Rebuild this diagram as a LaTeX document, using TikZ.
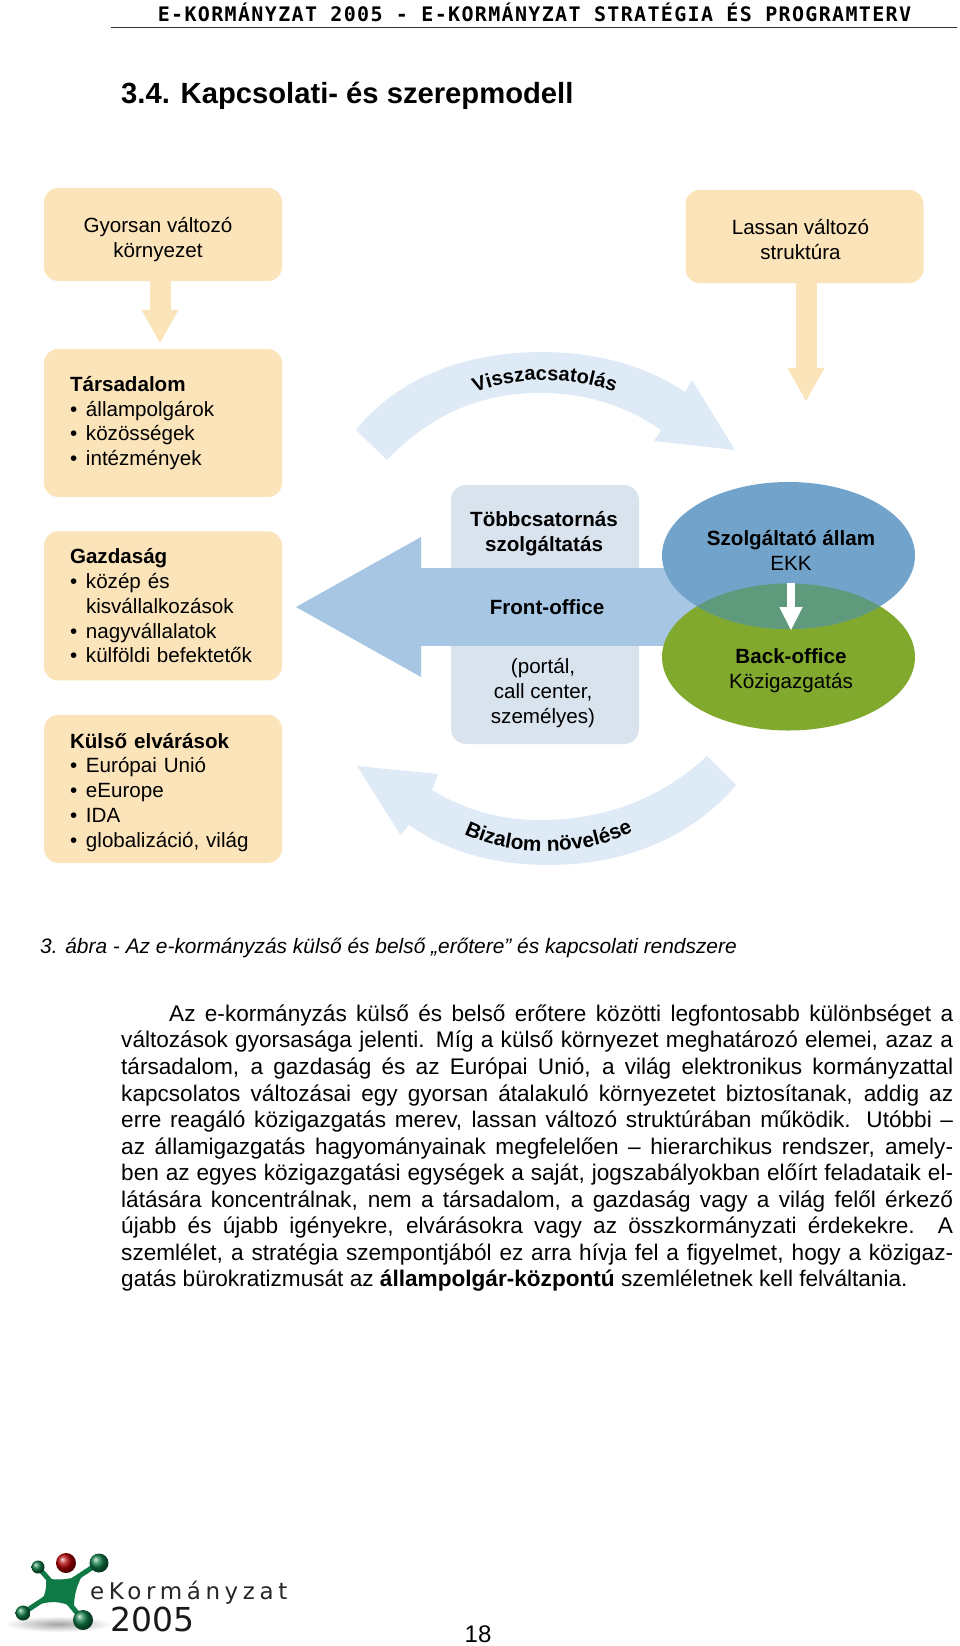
\documentclass[tikz,border=0pt]{standalone}
\usepackage{fontspec}
\setmainfont{Liberation Sans}
\newfontfamily\headfont[LetterSpace=6.7]{DejaVu Sans Mono}
\newfontfamily\logofont[LetterSpace=20]{DejaVu Sans}
\newfontfamily\logoyearfont{DejaVu Sans}
\usepackage{tikz}
\usetikzlibrary{arrows.meta}
\usetikzlibrary{positioning}
\usetikzlibrary{decorations.text}
\usetikzlibrary{shapes.geometric}
\definecolor{peach}{HTML}{FBE3BA}
\definecolor{paleblue}{HTML}{DEEBF7}
\definecolor{boxblue}{HTML}{D9E3EE}
\definecolor{frontblue}{HTML}{A6C6E4}
\definecolor{statblue}{HTML}{72A3CB}
\definecolor{backgreen}{HTML}{80A92E}
\definecolor{overlapgreen}{HTML}{5F9A7D}
\definecolor{logogreen}{HTML}{0F7A45}
\newcommand{\bul}[1]{\makebox[16pt][l]{\textbullet}#1}
\newcommand{\nobul}[1]{\makebox[16pt][l]{}#1}
\begin{document}
\begin{tikzpicture}[
      x=1pt, y=-1pt,
      peachbox/.style ={rectangle, rounded corners=14pt, fill=peach, minimum width=238pt, inner sep=0pt},
      topbox/.style ={peachbox, minimum height=93pt},
      listbox/.style ={peachbox, inner xsep=26pt, text width=186pt, align=left, font=\fontsize{20.6}{24.7}\selectfont},
      peacharrow/.style ={-{Triangle[length=33pt,width=37pt,line width=0pt]}, line width=21pt, draw=peach},
      bluecurve/.style ={fill=paleblue},
      midtext/.style ={align=center, inner sep=0pt, anchor=base, font=\fontsize{20.6}{24.7}\selectfont},
      state/.style ={ellipse, inner sep=0pt, minimum width=253pt, minimum height=147pt},
      node distance=34pt
    ]
    \useasboundingbox (0,0) rectangle (960,1646);

    \node [anchor=base, inner sep=0pt, font=\headfont\bfseries\fontsize{20}{20}\selectfont] (header) at (534.5,22) {E-KORMÁNYZAT 2005 - E-KORMÁNYZAT STRATÉGIA ÉS PROGRAMTERV};
    \coordinate (ruleL) at (111,28);
    \coordinate (ruleR) at (957,28);
    \draw [line width=1pt, black!80] (ruleL) -- (ruleR);
    \node [anchor=base west, inner sep=0pt, font=\bfseries\fontsize{29.2}{30}\selectfont] (title) at (121,103) {3.4. Kapcsolati- és szerepmodell};

    \node [topbox] (gyors) at (163,234.5) {};
    \node [topbox] (lassan) at (804.5,236.5) {};
    \node [midtext] (gyorsText) at (158,257) {Gyorsan változó\\környezet};
    \node [midtext] (lassanText) at (800.5,259) {Lassan változó\\struktúra};
    \node [listbox, minimum height=148pt] (tarsadalom) at (163,423) {\textbf{Társadalom}\\\bul{állampolgárok}\\\bul{közösségek}\\\bul{intézmények}};
    \node [listbox, minimum height=149pt] (gazdasag) [below=of tarsadalom] {\textbf{Gazdaság}\\\bul{közép és}\\\nobul{kisvállalkozások}\\\bul{nagyvállalatok}\\\bul{külföldi befektetők}};
    \node [listbox, minimum height=148pt] (kulso) [below=of gazdasag] {\rule{0pt}{22pt}\textbf{Külső elvárások}\\\bul{Európai Unió}\\\bul{eEurope}\\\bul{IDA}\\\bul{globalizáció, világ}};

    \coordinate (lassanTip) at (806,401);
    \draw [peacharrow, shorten >=6pt] ([xshift=-3pt]gyors.south) -- ([xshift=-3pt]tarsadalom.north);
    \draw [peacharrow] (lassan.south -| lassanTip) -- (lassanTip);

    \fill [bluecurve] (356,430) .. controls (400,375) and (470,352) .. (542,352)
      .. controls (595,352) and (645,365) .. (685,392) -- (692,380) -- (735,450) -- (654,441) -- (661,430)
      .. controls (625,405) and (585,393) .. (540,393)
      .. controls (480,393) and (430,415) .. (387,460) -- cycle;
    \fill [bluecurve] (736,785) .. controls (690,840) and (620,865) .. (549,865)
      .. controls (490,865) and (445,850) .. (409,825) -- (400.5,835) -- (357,766) -- (438,774) -- (432,790)
      .. controls (465,810) and (500,820) .. (540,820)
      .. controls (610,820) and (665,795) .. (707,756) -- cycle;
    \path [decorate, decoration={text along path, text align=center,
      text={|\bfseries\fontsize{20}{20}\selectfont|Visszacsatolás}}]
      (468,396) .. controls (515,375) and (570,375) .. (622,395);
    \path [decorate, decoration={text along path, text align=center,
      text={|\bfseries\fontsize{20.8}{20.8}\selectfont|Bizalom növelése}}]
      (460,832) .. controls (510,858) and (585,858) .. (637,830);

    \node [rectangle, rounded corners=15pt, fill=boxblue, minimum width=188pt, minimum height=259pt, inner sep=0pt] (kanal) at (545,614.5) {};
    \coordinate (frontStart) at (700,607);
    \coordinate (frontTip) at (296,607);
    \draw [-{Triangle[length=125pt,width=140pt,line width=0pt]}, line width=78pt, draw=frontblue] (frontStart) -- (frontTip);

    \node [state, fill=backgreen] (back) at (788.5,657) {};
    \node [state, fill=statblue] (szolg) at (788.5,555.5) {};
    \begin{scope}
      \clip (788.5,555.5) ellipse (126.5 and 73.5);
      \fill [overlapgreen] (788.5,657) ellipse (126.5 and 73.5);
    \end{scope}
    \coordinate (whiteStart) at (791,583);
    \coordinate (whiteTip) at (791,630);
    \draw [-{Triangle[length=23pt,width=23.5pt,line width=0pt]}, line width=8.5pt, draw=white] (whiteStart) -- (whiteTip);

    \node [midtext] (tobb) at (544,551) {\textbf{Többcsatornás}\\\textbf{szolgáltatás}};
    \node [midtext] (front) at (547,614) {\textbf{Front-office}};
    \node [midtext] (portal) at (543,723) {(portál,\\call center,\\személyes)};
    \node [midtext] (szolgText) at (791,570) {\textbf{Szolgáltató állam}\\EKK};
    \node [midtext] (backText) at (791,688) {\textbf{Back-office}\\Közigazgatás};

    \node [anchor=base west, inner sep=0pt, font=\itshape\fontsize{20.9}{24}\selectfont] (caption) at (40,953) {3. ábra - Az e-kormányzás külső és belső „erőtere” és kapcsolati rendszere};

    \node [anchor=north west, inner sep=0pt, text width=832pt, align=justify, font=\fontsize{22.6}{26.55}\selectfont] (body) at (121,1004.5) {\tolerance=9999 \hyphenpenalty=10000 \hspace*{48pt}Az e-kormányzás külső és belső erőtere közötti legfontosabb különbséget a\linebreak
      változások gyorsasága jelenti. Míg a külső környezet meghatározó elemei, azaz a\linebreak
      társadalom, a gazdaság és az Európai Unió, a világ elektronikus kormányzattal\linebreak
      kapcsolatos változásai egy gyorsan átalakuló környezetet biztosítanak, addig az\linebreak
      erre reagáló közigazgatás merev, lassan változó struktúrában működik. Utóbbi –\linebreak
      az államigazgatás hagyományainak megfelelően – hierarchikus rendszer, amely-\linebreak
      ben az egyes közigazgatási egységek a saját, jogszabályokban előírt feladataik el-\linebreak
      látására koncentrálnak, nem a társadalom, a gazdaság vagy a világ felől érkező\linebreak
      újabb és újabb igényekre, elvárásokra vagy az összkormányzati érdekekre. A\linebreak
      szemlélet, a stratégia szempontjából ez arra hívja fel a figyelmet, hogy a közigaz-\linebreak
      gatás bürokratizmusát az \textbf{állampolgár-központú} szemléletnek kell felváltania.};

    \shade [inner color=black!35, outer color=white] (58,1624) ellipse (54 and 8);
    \draw [logogreen, line width=5pt] (38,1567) -- (58,1590) -- (99,1563);
    \draw [logogreen, line width=5pt] (23,1613) -- (58,1590) -- (83,1620);
    \fill [logogreen] (46,1578) .. controls (58,1581) and (68,1579) .. (82,1576)
      .. controls (76,1587) and (74,1597) .. (74,1608)
      .. controls (62,1601) and (52,1601) .. (40,1604)
      .. controls (45,1596) and (47,1587) .. (46,1578) -- cycle;
    \shade [ball color=logogreen] (38,1567) circle (6.5);
    \shade [ball color=logogreen] (99,1563) circle (9.5);
    \shade [ball color=logogreen] (23,1613) circle (7.5);
    \shade [ball color=logogreen] (83,1620) circle (10);
    \shade [ball color=red!70!black] (66,1563) circle (10);
    \node [anchor=base west, inner sep=0pt, font=\logofont\fontsize{23}{23}\selectfont, black!85] (logoName) at (90,1599) {eKormányzat};
    \node [anchor=base west, inner sep=0pt, font=\logoyearfont\fontsize{33}{33}\selectfont, black!90] (logoYear) at (110,1631) {2005};
    \node [anchor=base, inner sep=0pt, font=\fontsize{24}{24}\selectfont] (pagenum) at (478,1642) {18};
  \end{tikzpicture}
\end{document}
